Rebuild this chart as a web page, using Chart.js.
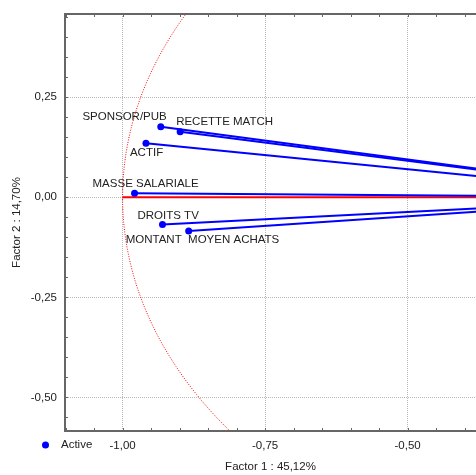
<!DOCTYPE html>
<html>
<head>
<meta charset="utf-8">
<script src="https://cdn.jsdelivr.net/npm/chart.js@4/dist/chart.umd.min.js"></script>
<style>
  html, body { margin: 0; padding: 0; background: #fff; overflow: hidden; }
  #wrap { width: 476px; height: 475px; overflow: hidden; }
</style>
</head>
<body>
<div id="wrap"><canvas id="chart" width="476" height="475"></canvas></div>
<script>
// variable coordinates on the factor plane
const variables = ['SPONSOR/PUB', 'RECETTE MATCH', 'ACTIF', 'MASSE SALARIALE', 'DROITS TV', 'MONTANT  MOYEN ACHATS'];
const factor1 = [-0.933, -0.899, -0.959, -0.979, -0.930, -0.884];
const factor2 = [0.176, 0.164, 0.135, 0.010, -0.068, -0.084];

// where each name sits relative to its point (px), and its alignment
const labelOffsets = [[6, -10, 'right'], [-4, -10, 'left'], [-16, 10, 'left'], [-42, -9, 'left'], [-25, -9, 'left'], [-63, 9, 'left']];

const axisTitleX = 'Factor 1 : 45,12%';
const axisTitleY = 'Factor 2 : 14,70%';
const legendLabel = 'Active';

const FONT = 'Liberation Sans, Arial, sans-serif';
const BLUE = '#0000ff';
const RED = '#ff0000';

function isMajor(v) {
    const r = v / 0.25;
    return Math.abs(r - Math.round(r)) < 1e-6;
}
function fmt(v) {
    if (Math.abs(v) < 1e-9) v = 0;
    return v.toFixed(2).replace('.', ',');
}

// one line per variable from the origin to its point
const datasets = [];
variables.forEach((name, i) => {
    datasets.push({
        label: name,
        data: [{ x: 0, y: 0 }, { x: factor1[i], y: factor2[i] }],
        showLine: true,
        borderColor: BLUE,
        backgroundColor: BLUE,
        borderWidth: 2,
        pointRadius: ctx => ctx.dataIndex === 1 ? 3.5 : 0,
        pointBorderWidth: 0
    });
});
// red reference axis
datasets.push({
    label: 'axis',
    data: [{ x: -1, y: 0 }, { x: 0, y: 0 }],
    showLine: true,
    borderColor: RED,
    borderWidth: 2,
    pointRadius: 0
});

const decorPlugin = {
    id: 'decor',
    beforeDatasetsDraw(chart) {
        const { ctx, chartArea: a, scales: { x, y } } = chart;
        // unit circle, dotted red
        ctx.save();
        ctx.beginPath();
        ctx.rect(a.left, a.top, a.right - a.left, a.bottom - a.top);
        ctx.clip();
        ctx.strokeStyle = RED;
        ctx.lineWidth = 1;
        ctx.setLineDash([1, 1.5]);
        ctx.beginPath();
        for (let k = 0; k <= 720; k++) {
            const t = k / 720 * Math.PI * 2;
            const px = x.getPixelForValue(Math.cos(t));
            const py = y.getPixelForValue(Math.sin(t));
            if (k === 0) ctx.moveTo(px, py); else ctx.lineTo(px, py);
        }
        ctx.stroke();
        ctx.restore();

        // inner tick marks and top border
        ctx.save();
        ctx.strokeStyle = '#666';
        ctx.lineWidth = 1;
        x.ticks.forEach(t => {
            const px = Math.round(x.getPixelForValue(t.value)) + 0.5;
            ctx.beginPath();
            ctx.moveTo(px, a.bottom); ctx.lineTo(px, a.bottom - 3);
            ctx.moveTo(px, a.top); ctx.lineTo(px, a.top + 3);
            ctx.stroke();
        });
        y.ticks.forEach(t => {
            const py = Math.round(y.getPixelForValue(t.value)) + 0.5;
            ctx.beginPath();
            ctx.moveTo(a.left, py); ctx.lineTo(a.left + 3, py);
            ctx.stroke();
        });
        ctx.lineWidth = 2;
        ctx.beginPath();
        ctx.moveTo(a.left, a.top); ctx.lineTo(a.right, a.top);
        ctx.stroke();
        ctx.restore();
    },
    afterDatasetsDraw(chart) {
        const { ctx, scales: { x, y } } = chart;
        ctx.save();
        ctx.fillStyle = '#222';
        ctx.font = '11.5px ' + FONT;
        ctx.textBaseline = 'middle';
        variables.forEach((name, i) => {
            const o = labelOffsets[i];
            ctx.textAlign = o[2];
            ctx.fillText(name, x.getPixelForValue(factor1[i]) + o[0], y.getPixelForValue(factor2[i]) + o[1]);
        });
        // legend
        ctx.fillStyle = BLUE;
        ctx.beginPath();
        ctx.arc(45.5, 445, 3.5, 0, Math.PI * 2);
        ctx.fill();
        ctx.fillStyle = '#222';
        ctx.textAlign = 'left';
        ctx.fillText(legendLabel, 61, 445);
        ctx.restore();
    }
};

new Chart(document.getElementById('chart'), {
    type: 'scatter',
    data: { datasets: datasets },
    plugins: [decorPlugin],
    options: {
        responsive: false,
        animation: false,
        layout: { autoPadding: false, padding: { top: 14, right: 0, left: 0, bottom: 0 } },
        plugins: {
            legend: { display: false },
            tooltip: { enabled: false }
        },
        scales: {
            x: {
                min: -1.101,
                max: -0.380,
                afterFit: s => { s.height = 44; s.paddingLeft = 0; s.paddingRight = 0; },
                ticks: {
                    stepSize: 0.05,
                    includeBounds: false,
                    autoSkip: false,
                    maxRotation: 0,
                    padding: 8,
                    color: '#222',
                    font: { family: FONT, size: 11.5 },
                    callback: v => isMajor(v) ? fmt(v) : ''
                },
                grid: {
                    drawTicks: false,
                    color: ctx => ctx.tick && isMajor(ctx.tick.value) ? '#b8b8b8' : 'rgba(0,0,0,0)',
                    lineWidth: 1
                },
                border: { display: true, color: '#666', width: 2, dash: [1, 1] },
                title: {
                    display: true,
                    text: axisTitleX,
                    color: '#222',
                    font: { family: FONT, size: 11.5 },
                    padding: { top: 0, bottom: 1 }
                }
            },
            y: {
                min: -0.584,
                max: 0.458,
                afterFit: s => { s.width = 65; s.paddingTop = 0; s.paddingBottom = 0; },
                ticks: {
                    stepSize: 0.05,
                    includeBounds: false,
                    autoSkip: false,
                    padding: 8,
                    color: '#222',
                    font: { family: FONT, size: 11.5 },
                    callback: v => isMajor(v) ? fmt(v) : ''
                },
                grid: {
                    drawTicks: false,
                    color: ctx => ctx.tick && isMajor(ctx.tick.value) ? '#b8b8b8' : 'rgba(0,0,0,0)',
                    lineWidth: 1
                },
                border: { display: true, color: '#666', width: 2, dash: [1, 1] },
                title: {
                    display: true,
                    text: axisTitleY,
                    color: '#222',
                    font: { family: FONT, size: 11.5 },
                    padding: { top: 10, bottom: 0 }
                }
            }
        }
    }
});
</script>
</body>
</html>
